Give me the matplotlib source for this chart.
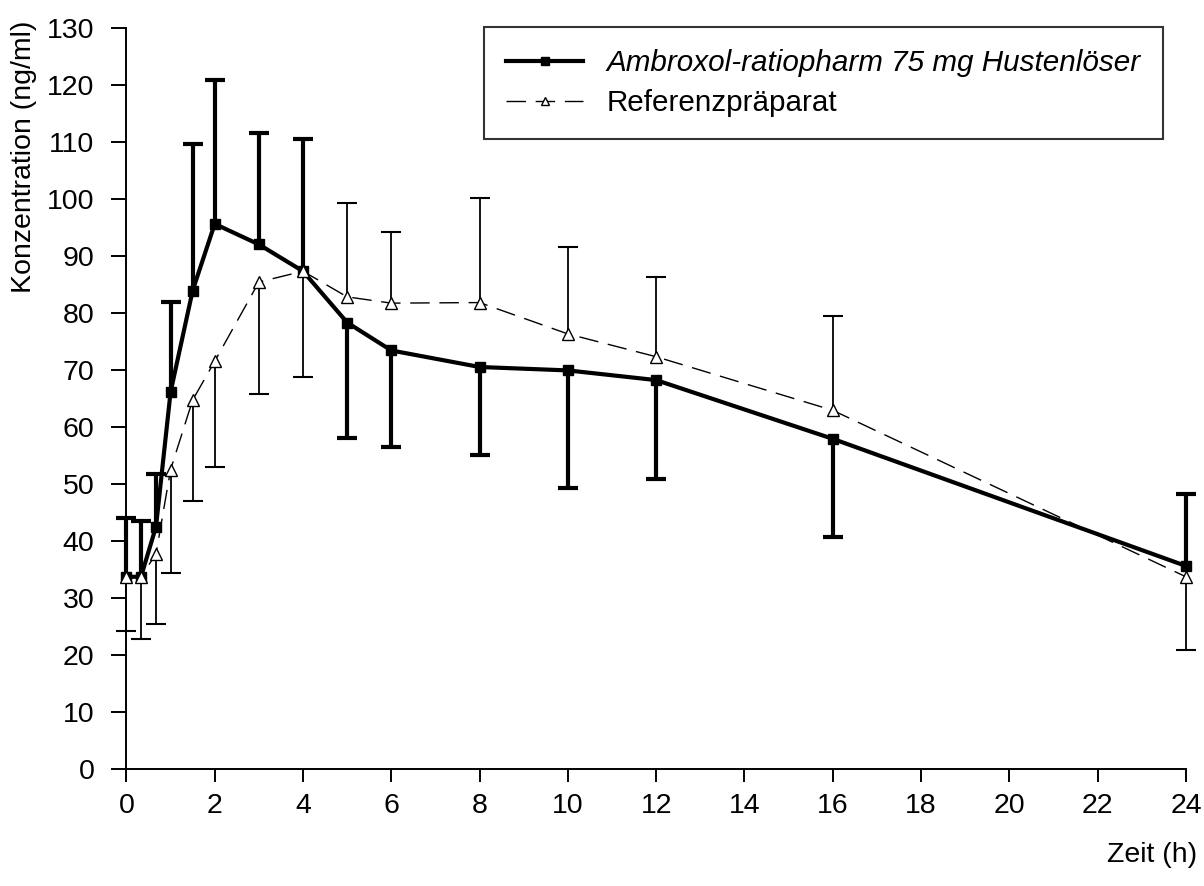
import matplotlib
matplotlib.use("Agg")
import matplotlib.pyplot as plt
import numpy as np

# Data
time_h = [0, 0.33, 0.67, 1, 1.5, 2, 3, 4, 5, 6, 8, 10, 12, 16, 24]
test_mean = [33.8, 33.8, 42.6, 66.2, 84.0, 95.7, 92.1, 87.4, 78.4, 73.5, 70.6, 70.0, 68.3, 58.0, 35.7]
test_err_end = [44.1, 43.5, 51.8, 82.0, 109.8, 120.9, 111.6, 110.6, 58.2, 56.5, 55.1, 49.3, 51.0, 40.8, 48.3]
ref_mean = [33.8, 33.8, 37.8, 52.6, 64.8, 71.6, 85.5, 87.4, 82.9, 81.8, 81.9, 76.4, 72.4, 63.0, 33.8]
ref_err_end = [24.3, 22.9, 25.5, 34.5, 47.1, 53.0, 65.8, 68.9, 99.3, 94.3, 100.3, 91.6, 86.3, 79.5, 21.0]

label_test = "Ambroxol-ratiopharm 75 mg Hustenlöser"
label_ref = "Referenzpräparat"
xticks = list(range(0, 25, 2))
yticks = list(range(0, 131, 10))

plt.rcParams['font.family'] = ['Liberation Sans', 'DejaVu Sans']
FS = 20.5

def split_err(mean, end):
    m = np.array(mean); e = np.array(end)
    lower = np.where(e < m, m - e, 0.0)
    upper = np.where(e > m, e - m, 0.0)
    return np.vstack([lower, upper])

fig = plt.figure(figsize=(12.04, 8.86), dpi=100)
ax = fig.add_axes([0.105, 0.1315, 0.880, 0.8365])

# Test preparation: one-sided error bars with caps at the bar end
ax.errorbar(time_h, test_mean, yerr=split_err(test_mean, test_err_end), fmt='none',
            ecolor='black', elinewidth=3.0, capsize=0, zorder=3, clip_on=False)
ax.plot(time_h, test_err_end, ls='none', marker='_', ms=15, mew=3.0,
        color='black', zorder=3, clip_on=False)
ax.plot(time_h, test_mean, color='black', lw=3.0, marker='s', ms=6.5,
        mfc='black', mec='black', zorder=4, clip_on=False, label=label_test)

# Reference
ax.errorbar(time_h, ref_mean, yerr=split_err(ref_mean, ref_err_end), fmt='none',
            ecolor='black', elinewidth=1.3, capsize=0, zorder=5, clip_on=False)
ax.plot(time_h, ref_err_end, ls='none', marker='_', ms=15, mew=1.5,
        color='black', zorder=5, clip_on=False)
ax.plot(time_h, ref_mean, color='black', lw=1.0, dashes=(14, 7), marker='^', ms=8,
        mfc='white', mec='black', mew=1.0, zorder=6, clip_on=False, label=label_ref)

ax.set_xlim(0, 24)
ax.set_ylim(0, 130)
ax.set_xticks(xticks)
ax.set_yticks(yticks)
ax.spines['top'].set_visible(False)
ax.spines['right'].set_visible(False)
for s in ['left', 'bottom']:
    ax.spines[s].set_linewidth(1.4)
ax.tick_params(axis='both', direction='out', width=1.4, labelsize=FS, colors='black')
ax.tick_params(axis='y', length=11, pad=12)
ax.tick_params(axis='x', length=9, pad=8)

ax.set_ylabel("Konzentration (ng/ml)", fontsize=FS)
ax.yaxis.set_label_coords(-0.084, 0.826)
fig.text(0.994, 0.035, "Zeit (h)", fontsize=FS, ha='right', va='center')

leg = ax.legend(loc='upper right', bbox_to_anchor=(0.966, 0.9695),
                bbox_transform=fig.transFigure, fontsize=21.3, frameon=True,
                fancybox=False, edgecolor='black', handlelength=2.6,
                handletextpad=0.8, borderpad=0.75, labelspacing=0.4,
                borderaxespad=0, markerscale=0.8)
leg.get_frame().set_linewidth(1.5)
leg.get_texts()[0].set_fontstyle('italic')

fig.savefig("out.png", dpi=100, facecolor='white')
